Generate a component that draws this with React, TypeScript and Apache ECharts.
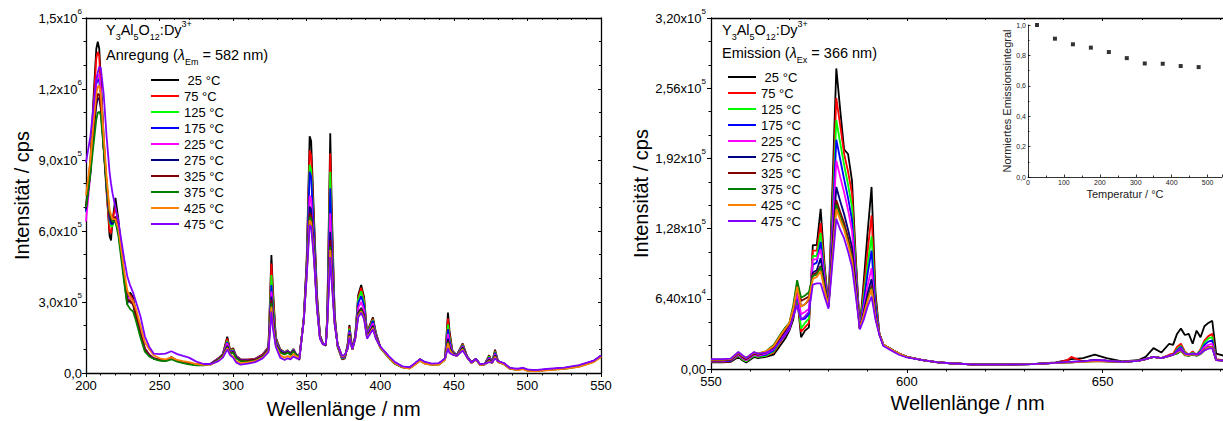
import React, { useEffect, useRef } from 'react';
import * as echarts from 'echarts';

const FONT = '"Liberation Sans", Arial, Helvetica, sans-serif';

const TEMPS = [' 25 °C', '75 °C', '125 °C', '175 °C', '225 °C', '275 °C', '325 °C', '375 °C', '425 °C', '475 °C'];
const COLORS = ['#000000', '#ff0000', '#00ff00', '#0000ff', '#ff00ff', '#000080', '#800000', '#008000', '#ff8000', '#8000ff'];

// ---------- Excitation spectra (left), wavelength in nm, intensity in 10^3 cps ----------
const LX = [
  200, 203, 205, 207, 208, 209, 210, 212, 214, 216, 217, 218, 220, 222, 224, 226, 228, 230, 232, 234, 237, 240, 243, 246,
  250, 254, 258, 262, 266, 270, 275, 280, 285, 290, 293, 296, 298, 300, 302, 305, 310, 315, 320, 324,
  326, 327, 329, 332, 335, 337, 339, 341, 343, 345, 348, 350,
  352, 353, 355, 357, 359, 361, 363, 364, 366, 367, 369, 371, 374, 376,
  378, 379, 381, 383, 385, 387, 389, 391, 393, 395, 397, 400, 403, 406, 410, 415, 420, 424, 427, 430, 435, 440, 444,
  446, 447, 449, 452, 456, 459, 462, 465, 468, 471, 474, 476, 478, 480, 484, 488, 493, 497, 500, 505, 515, 525, 535, 545, 550,
];

const exc25 = [
  700, 900, 1150, 1370, 1400, 1370, 1250, 1000, 780, 580, 560, 640, 740, 650, 520, 400, 290, 340, 320, 250, 170, 100, 75, 62,
  55, 52, 68, 52, 46, 40, 36, 36, 40, 62, 80, 153, 95, 105, 72, 58, 56, 60, 78, 110,
  498, 360, 150, 100, 88, 96, 82, 102, 70, 55, 230, 480,
  1000, 980, 650, 330, 160, 125, 115, 250, 1013, 700, 250, 110, 58, 62,
  130, 203, 100, 160, 330, 372, 320, 170, 205, 235, 170, 110, 88, 65, 40, 25, 22, 40, 58, 45, 38, 40, 60,
  255, 180, 95, 75, 125, 70, 45, 60, 35, 38, 75, 45, 98, 50, 40, 20, 15, 20, 12, 10, 15, 20, 30, 50, 72,
];
const exc75 = [
  690, 880, 1120, 1330, 1357, 1340, 1200, 950, 760, 600, 590, 650, 700, 630, 520, 410, 310, 330, 310, 250, 175, 105, 78, 63,
  55, 52, 66, 52, 46, 40, 36, 36, 40, 62, 80, 145, 93, 102, 72, 58, 56, 60, 78, 108,
  463, 335, 145, 98, 87, 95, 82, 100, 72, 58, 230, 470,
  940, 920, 620, 320, 158, 125, 116, 245, 928, 650, 240, 112, 60, 64,
  125, 195, 100, 158, 320, 360, 310, 168, 200, 230, 168, 110, 88, 65, 40, 25, 22, 40, 58, 45, 38, 40, 60,
  230, 165, 92, 75, 122, 70, 45, 60, 35, 38, 72, 45, 94, 50, 40, 20, 15, 20, 12, 10, 15, 20, 30, 50, 72,
];
const exc125 = [
  680, 860, 1060, 1230, 1255, 1240, 1180, 950, 770, 640, 620, 620, 660, 600, 500, 400, 310, 320, 300, 240, 165, 100, 75, 62,
  55, 52, 64, 51, 45, 39, 35, 35, 40, 60, 78, 135, 90, 98, 70, 56, 54, 58, 75, 105,
  414, 300, 140, 96, 86, 94, 82, 100, 74, 62, 228, 460,
  880, 860, 590, 310, 156, 125, 117, 240, 850, 600, 235, 114, 62, 66,
  120, 188, 100, 156, 310, 345, 298, 165, 195, 225, 165, 110, 88, 65, 41, 26, 22, 40, 57, 45, 38, 40, 60,
  205, 150, 90, 75, 118, 70, 45, 60, 35, 38, 70, 45, 90, 50, 40, 20, 15, 20, 12, 10, 15, 20, 30, 50, 72,
];
const exc175 = [
  680, 860, 1060, 1220, 1240, 1235, 1180, 960, 780, 650, 630, 630, 660, 610, 510, 410, 320, 320, 300, 245, 170, 102, 76, 62,
  56, 53, 64, 52, 46, 40, 36, 36, 40, 60, 78, 130, 88, 95, 70, 56, 54, 58, 75, 104,
  372, 270, 135, 95, 85, 93, 82, 98, 76, 65, 228, 455,
  850, 830, 575, 305, 155, 124, 118, 235, 780, 560, 230, 116, 64, 68,
  118, 180, 100, 154, 295, 325, 285, 162, 190, 220, 162, 110, 88, 66, 41, 26, 23, 41, 57, 45, 38, 40, 60,
  185, 138, 88, 75, 115, 70, 45, 59, 35, 38, 66, 45, 85, 49, 40, 20, 15, 19, 12, 10, 15, 20, 30, 50, 72,
];
const exc225 = [
  640, 840, 1050, 1230, 1260, 1260, 1200, 980, 800, 660, 640, 640, 660, 610, 510, 410, 320, 315, 300, 245, 170, 102, 76, 62,
  56, 53, 64, 52, 46, 40, 36, 36, 40, 60, 77, 125, 86, 92, 68, 55, 53, 57, 74, 102,
  344, 250, 130, 92, 84, 92, 80, 97, 78, 67, 226, 440,
  750, 735, 530, 290, 152, 124, 119, 230, 675, 500, 220, 118, 66, 70,
  115, 172, 100, 152, 275, 300, 265, 158, 185, 210, 158, 110, 88, 66, 42, 26, 23, 41, 56, 44, 38, 40, 60,
  165, 125, 86, 74, 112, 69, 45, 59, 35, 38, 62, 44, 80, 49, 40, 20, 15, 19, 12, 10, 16, 21, 31, 50, 72,
];
const exc275 = [
  690, 850, 1000, 1130, 1160, 1160, 1120, 950, 790, 660, 640, 630, 650, 600, 500, 400, 310, 300, 290, 240, 165, 100, 74, 61,
  55, 52, 62, 51, 45, 39, 35, 35, 39, 58, 75, 115, 84, 90, 66, 54, 52, 56, 72, 100,
  323, 235, 125, 90, 82, 90, 80, 95, 78, 68, 225, 430,
  703, 690, 510, 285, 150, 123, 120, 225, 597, 450, 215, 120, 68, 72,
  112, 165, 100, 150, 255, 275, 245, 155, 178, 200, 155, 110, 88, 66, 42, 27, 23, 41, 56, 44, 37, 40, 59,
  145, 112, 84, 74, 108, 68, 44, 58, 35, 38, 58, 44, 75, 48, 39, 20, 15, 19, 12, 10, 16, 21, 31, 50, 72,
];
const exc325 = [
  700, 860, 1020, 1150, 1180, 1175, 1130, 960, 800, 670, 650, 640, 660, 610, 510, 405, 310, 305, 290, 240, 165, 100, 74, 61,
  55, 52, 62, 51, 45, 39, 35, 35, 39, 58, 75, 110, 82, 88, 65, 53, 52, 56, 72, 100,
  309, 225, 122, 88, 80, 88, 78, 93, 76, 68, 225, 425,
  675, 665, 495, 280, 148, 122, 121, 220, 562, 425, 212, 120, 70, 74,
  110, 160, 100, 148, 250, 270, 240, 152, 172, 195, 152, 108, 86, 64, 40, 25, 21, 39, 54, 42, 36, 38, 58,
  135, 105, 82, 73, 105, 67, 43, 57, 34, 37, 55, 43, 72, 47, 38, 19, 14, 18, 11, 9, 14, 19, 28, 48, 70,
];
const exc375 = [
  700, 840, 960, 1070, 1100, 1104, 1090, 950, 800, 680, 660, 640, 640, 580, 480, 380, 290, 270, 260, 220, 150, 90, 70, 60,
  52, 50, 58, 48, 42, 36, 32, 32, 37, 56, 72, 108, 80, 86, 62, 50, 48, 52, 68, 96,
  295, 215, 120, 86, 78, 86, 76, 92, 76, 68, 224, 420,
  660, 650, 490, 278, 147, 122, 122, 218, 534, 410, 210, 120, 70, 74,
  108, 158, 98, 147, 245, 265, 236, 150, 170, 192, 150, 106, 84, 62, 38, 24, 20, 38, 52, 40, 34, 36, 56,
  130, 102, 81, 72, 103, 66, 42, 56, 33, 36, 52, 42, 70, 46, 37, 18, 13, 17, 10, 8, 13, 18, 27, 47, 69,
];
const exc425 = [
  750, 900, 1050, 1180, 1210, 1213, 1180, 1000, 830, 690, 670, 650, 650, 610, 520, 430, 350, 320, 300, 270, 200, 130, 100, 75,
  62, 58, 66, 55, 50, 46, 38, 34, 36, 52, 68, 105, 78, 70, 50, 42, 45, 50, 65, 92,
  280, 205, 115, 75, 65, 72, 65, 80, 70, 64, 222, 415,
  646, 636, 485, 276, 146, 121, 123, 215, 520, 400, 208, 120, 70, 75,
  106, 155, 98, 146, 240, 260, 232, 148, 168, 190, 148, 108, 86, 64, 40, 24, 19, 37, 52, 40, 34, 36, 56,
  125, 98, 80, 72, 100, 66, 42, 56, 33, 36, 50, 42, 68, 46, 37, 18, 12, 16, 9, 7, 12, 17, 26, 46, 68,
];
const exc475 = [
  890, 1000, 1120, 1240, 1270, 1294, 1290, 1180, 1000, 850, 800, 760, 700, 640, 560, 480, 410, 370, 340, 300, 240, 155, 110, 82,
  80, 82, 92, 80, 72, 65, 48, 38, 38, 50, 65, 100, 75, 65, 45, 35, 40, 46, 62, 88,
  260, 190, 110, 65, 55, 62, 58, 70, 62, 60, 220, 410,
  625, 618, 475, 272, 145, 120, 124, 210, 490, 385, 205, 120, 72, 78,
  104, 150, 100, 145, 235, 255, 228, 145, 165, 185, 145, 112, 90, 70, 46, 28, 24, 44, 58, 48, 40, 42, 62,
  105, 85, 78, 72, 95, 66, 44, 58, 36, 40, 46, 44, 62, 50, 42, 22, 18, 22, 15, 12, 18, 23, 33, 52, 74,
];
const EXC = [exc25, exc75, exc125, exc175, exc225, exc275, exc325, exc375, exc425, exc475];

// ---------- Emission spectra (right), wavelength in nm, intensity in 10^3 cps ----------
const RX = [
  550, 553, 555, 557, 558, 559, 561, 562, 564, 566,
  568, 569, 570, 571, 572, 573, 574, 575, 576, 577,
  578, 579, 580, 581, 582, 583, 584, 585, 586, 587,
  588, 589, 590, 591, 592, 593, 594, 596, 598, 600,
  604, 608, 612, 618, 625, 632, 638, 641, 642, 645,
  648, 651, 655, 659, 661, 663, 665, 667, 668, 669,
  670, 671, 672, 673, 674, 675, 676, 677, 678, 679,
  681,
];

const em25 = [
  6, 6, 6.5, 11, 8, 6, 11, 10, 11, 13,
  23, 28, 35, 45, 66, 29, 35, 38, 113, 113,
  146, 95, 57, 165, 274, 236, 200, 196, 172, 100,
  37, 80, 125, 166, 70, 32, 22, 18, 14, 11,
  8, 6, 5, 4, 4, 4.5, 6, 8, 9, 10,
  13, 10, 7, 8, 11, 19, 15, 23, 22, 32,
  37, 31, 32, 23, 35, 29, 39, 42, 44, 14,
  12,
];
const em75 = [
  6.5, 6.5, 7, 12, 9, 7, 12, 11, 12, 15,
  26, 31, 37, 47, 66, 34, 38, 42, 108, 108,
  133, 92, 57, 150, 247, 222, 196, 180, 160, 95,
  37, 72, 108, 140, 65, 32, 22, 18, 14, 11,
  8, 6, 5, 4, 4, 4.5, 5.5, 8, 11, 7,
  8, 7.5, 6.5, 7.5, 9, 11, 10, 13, 14, 20,
  23, 16, 13, 16, 13, 18, 26, 30, 32, 9,
  8,
];
const em125 = [
  7, 7, 7.5, 12, 9, 7, 12, 11, 12, 16,
  27, 32, 38, 48, 68, 37, 42, 46, 103, 103,
  124, 88, 57, 140, 227, 206, 186, 168, 148, 90,
  37, 66, 95, 121, 60, 32, 22, 18, 14, 11,
  8, 6, 5, 4, 4, 4.5, 5.5, 6.5, 6.5, 7,
  8, 7.5, 6.5, 7.5, 9, 11, 10, 12, 13, 18,
  21, 15, 13, 15, 13, 17, 24, 28, 29, 8.5,
  8,
];
const em175 = [
  7, 7, 7.5, 13, 10, 8, 13, 12, 13, 17,
  28, 33, 39, 50, 68, 45, 46, 50, 95, 97,
  116, 85, 57, 132, 209, 191, 173, 156, 136, 86,
  37, 61, 87, 108, 57, 32, 22, 18, 14, 11,
  8, 6, 5, 4, 4, 4.5, 5.5, 6.5, 6.5, 7,
  8, 7.5, 6.5, 7.5, 9, 11, 10, 12, 13, 17,
  20, 14, 13, 14, 13, 16, 22, 25, 26, 8.5,
  8,
];
const em225 = [
  7.5, 7.5, 8, 13, 10, 8, 13, 12, 14, 18,
  29, 34, 40, 52, 70, 50, 52, 55, 100, 100,
  109, 82, 57, 124, 190, 175, 161, 145, 126, 82,
  37, 56, 76, 92, 52, 32, 22, 18, 14, 11,
  8, 6, 5, 4, 4, 4.5, 5.5, 6.5, 6.5, 7,
  8, 7.5, 6.5, 7.5, 9, 11, 10, 12, 13, 16,
  19, 14, 13, 14, 13, 15, 20, 22, 23, 8.5,
  8,
];
const em275 = [
  8, 8, 8.5, 14, 11, 9, 14, 13, 15, 19,
  30, 35, 41, 54, 76, 57, 59, 63, 88, 90,
  101, 78, 57, 112, 166, 153, 141, 127, 111, 76,
  37, 52, 69, 82, 50, 32, 22, 18, 14, 11,
  8, 6, 5, 4, 4, 4.5, 5.5, 6, 6, 7,
  8, 7, 6.5, 7.5, 9, 11, 10, 12, 13, 15,
  18, 13, 12.5, 13.5, 12.5, 14, 18, 20, 20, 8,
  7.5,
];
const em325 = [
  8, 8, 8.5, 14, 11, 9, 14, 13, 15, 20,
  31, 36, 41, 55, 78, 62, 64, 66, 86, 88,
  94, 75, 57, 106, 154, 143, 133, 120, 104, 72,
  37, 50, 64, 76, 48, 32, 22, 18, 14, 11,
  8, 6, 5, 4, 4, 4.5, 5.5, 6, 6, 7,
  7.5, 7, 6.5, 7.5, 9, 11, 10, 12, 13, 15,
  17, 13, 12.5, 13.5, 12.5, 14, 17.5, 19.5, 20, 8,
  7.5,
];
const em375 = [
  8.5, 8.5, 9, 15, 12, 10, 15, 14, 16, 22,
  33, 38, 42, 58, 81, 65, 67, 70, 85, 86,
  93, 74, 57, 103, 150, 139, 129, 116, 101, 70,
  37, 49, 63, 74, 47, 32, 22, 18, 14, 11,
  8, 6, 5, 4, 4, 4.5, 5.5, 6, 6, 6.5,
  7, 7, 6.5, 7.5, 9, 11, 10, 12, 13, 14,
  16.5, 12.5, 12, 13, 12, 13.5, 17, 19, 20, 8,
  7.5,
];
const em425 = [
  8.5, 8.5, 9, 15, 12, 10, 15, 14, 16, 21,
  32, 37, 42, 55, 75, 57, 59, 64, 82, 84,
  89, 72, 57, 101, 146, 136, 127, 114, 99, 69,
  37, 49, 62, 73, 47, 32, 22, 18, 14, 11,
  8, 6, 5, 4, 4, 4.5, 5.5, 6, 6, 6.5,
  7, 7, 6.5, 7.5, 9, 11, 10, 12, 13, 15,
  17, 13, 12.5, 13.5, 12.5, 14, 17.5, 19.5, 20, 8,
  7.5,
];
const em475 = [
  9, 9, 9.5, 15.5, 12.5, 10, 15.5, 14, 15, 18,
  27, 31, 36, 48, 58, 45, 48, 52, 77, 78,
  78, 66, 55, 96, 137, 127, 119, 107, 93, 66,
  36, 45, 57, 66, 45, 31, 21, 17, 13, 10.5,
  8, 6, 5, 4, 4, 4.5, 5.5, 6.5, 6.5, 7,
  8, 7.5, 6.5, 7.5, 9, 11, 10, 12, 13, 16,
  17.5, 14, 13, 14, 13, 14, 17, 18.5, 19, 8,
  7.5,
];
const EM = [em25, em75, em125, em175, em225, em275, em325, em375, em425, em475];

// ---------- Inset: normalised emission integral ----------
const INSET_T = [25, 75, 125, 175, 225, 275, 325, 375, 425, 475];
const INSET_V = [1.0, 0.91, 0.873, 0.851, 0.822, 0.782, 0.747, 0.745, 0.73, 0.723];

// y tick values are in 10^3 cps
function sciLabel(vk: number, dec: number): string {
  const v = Math.round(vk * 1000);
  if (v === 0) return '{m|0,' + '0'.repeat(dec) + '}';
  const e = Math.floor(Math.log10(v) + 1e-9);
  const m = (v / Math.pow(10, e)).toFixed(dec).replace('.', ',');
  return '{m|' + m + 'x10}{p|' + e + '}';
}

const BLACK = '#000';
const AX_LINE = { show: true, onZero: false, lineStyle: { color: BLACK, width: 1.3 } };
const TICK_RICH = {
  m: { fontSize: 13, lineHeight: 22, color: BLACK, fontFamily: FONT },
  p: { fontSize: 8, lineHeight: 10, color: BLACK, fontFamily: FONT, verticalAlign: 'top' },
};
const NAME_STYLE = { fontSize: 20, color: BLACK, fontFamily: FONT };

function mirrorX(grid: number, min: number, max: number, interval: number, minor: number) {
  return {
    type: 'value', gridIndex: grid, position: 'top', min, max, interval,
    axisLine: AX_LINE,
    axisTick: { show: true, inside: true, length: 3, lineStyle: { color: BLACK, width: 1 } },
    minorTick: { show: true, splitNumber: minor, length: 2, lineStyle: { color: BLACK, width: 1 } },
    axisLabel: { show: false }, splitLine: { show: false }, minorSplitLine: { show: false },
  };
}

export default function App() {
  const ref = useRef<HTMLDivElement>(null);

  useEffect(() => {
    document.body.style.margin = '0';
    if (!ref.current) return;
    const chart = echarts.init(ref.current, undefined, { renderer: 'svg' });

    const leftSeries = EXC.map((arr, i) => ({
      type: 'line', name: TEMPS[i], xAxisIndex: 0, yAxisIndex: 0,
      data: LX.map((x, k) => [x, arr[k]]),
      symbol: 'none', silent: true, clip: true,
      lineStyle: { color: COLORS[i], width: 1.8 }, itemStyle: { color: COLORS[i] },
    }));
    const rightSeries = EM.map((arr, i) => ({
      type: 'line', name: TEMPS[i], xAxisIndex: 2, yAxisIndex: 2,
      data: RX.map((x, k) => [x, arr[k]]),
      symbol: 'none', silent: true, clip: true,
      lineStyle: { color: COLORS[i], width: 1.8 }, itemStyle: { color: COLORS[i] },
    }));
    const insetSeries = {
      type: 'scatter', xAxisIndex: 4, yAxisIndex: 3,
      data: INSET_T.map((t, k) => [t, INSET_V[k]]),
      symbol: 'rect', symbolSize: 4, silent: true,
      itemStyle: { color: BLACK },
    };

    const formulaRich = {
      m: { fontSize: 14.5, lineHeight: 22, fill: BLACK, fontFamily: FONT },
      b: { fontSize: 9, lineHeight: 9, fill: BLACK, fontFamily: FONT, verticalAlign: 'bottom' },
      t: { fontSize: 9, lineHeight: 9, fill: BLACK, fontFamily: FONT, verticalAlign: 'top' },
      i: { fontSize: 14.5, lineHeight: 22, fill: BLACK, fontFamily: FONT, fontStyle: 'italic' },
    };
    const FORMULA = '{m|Y}{b|3}{m|Al}{b|5}{m|O}{b|12}{m|:Dy}{t|3+}';

    const legendCommon = {
      show: true, orient: 'vertical', itemWidth: 28, itemHeight: 16, itemGap: 0,
      selectedMode: false, data: TEMPS,
      itemStyle: { opacity: 0 },
      lineStyle: { width: 2 },
      textStyle: { fontSize: 13, color: BLACK, fontFamily: FONT, lineHeight: 16 },
    };

    chart.setOption({
      animation: false,
      textStyle: { fontFamily: FONT },
      grid: [
        { left: 86, top: 18, width: 515, height: 355, outerBoundsMode: 'none' },
        { left: 711, top: 18, width: 513, height: 351, outerBoundsMode: 'none' },
        { left: 1028, top: 25, width: 194, height: 152, outerBoundsMode: 'none' },
      ],
      legend: [
        { ...legendCommon, left: 145, top: 67 },
        { ...legendCommon, left: 722, top: 64 },
      ],
      xAxis: [
        {
          type: 'value', gridIndex: 0, position: 'bottom', min: 200, max: 550, interval: 50,
          axisLine: AX_LINE,
          axisTick: { show: true, inside: false, length: 4, lineStyle: { color: BLACK, width: 1 } },
          minorTick: { show: true, splitNumber: 5, length: 2.5, lineStyle: { color: BLACK, width: 1 } },
          splitLine: { show: false }, minorSplitLine: { show: false },
          axisLabel: { fontSize: 13, color: BLACK, margin: 6, fontFamily: FONT },
          name: 'Wellenlänge / nm', nameLocation: 'middle', nameGap: 26, nameTextStyle: NAME_STYLE,
        },
        mirrorX(0, 200, 550, 50, 5),
        {
          type: 'value', gridIndex: 1, position: 'bottom', min: 550, max: 681, interval: 50,
          axisLine: AX_LINE,
          axisTick: { show: true, inside: false, length: 4, lineStyle: { color: BLACK, width: 1 } },
          minorTick: { show: true, splitNumber: 5, length: 2.5, lineStyle: { color: BLACK, width: 1 } },
          splitLine: { show: false }, minorSplitLine: { show: false },
          axisLabel: {
            fontSize: 13, color: BLACK, margin: 6, fontFamily: FONT, showMaxLabel: false,
            formatter: (v: number) => (v % 50 === 0 ? String(v) : ''),
          },
          name: 'Wellenlänge / nm', nameLocation: 'middle', nameGap: 16, nameTextStyle: NAME_STYLE,
        },
        mirrorX(1, 550, 681, 50, 5),
        {
          type: 'value', gridIndex: 2, position: 'bottom', min: 0, max: 540, interval: 100,
          axisLine: { show: true, onZero: false, lineStyle: { color: BLACK, width: 0.8 } },
          axisTick: { show: true, inside: true, length: 2.5, lineStyle: { color: BLACK, width: 0.8 } },
          minorTick: { show: true, splitNumber: 2, length: 1.5, lineStyle: { color: BLACK, width: 0.8 } },
          splitLine: { show: false }, minorSplitLine: { show: false },
          axisLabel: {
            fontSize: 7, color: '#222', margin: 2, fontFamily: FONT, showMaxLabel: false,
            formatter: (v: number) => (v % 100 === 0 ? String(v) : ''),
          },
          name: 'Temperatur / °C', nameLocation: 'middle', nameGap: 11,
          nameTextStyle: { fontSize: 11, color: '#222', fontFamily: FONT },
        },
      ],
      yAxis: [
        {
          type: 'value', gridIndex: 0, position: 'left', min: 0, max: 1500, interval: 300,
          axisLine: AX_LINE,
          axisTick: { show: true, inside: false, length: 4, lineStyle: { color: BLACK, width: 1 } },
          minorTick: { show: true, splitNumber: 3, length: 2.5, lineStyle: { color: BLACK, width: 1 } },
          splitLine: { show: false }, minorSplitLine: { show: false },
          axisLabel: { margin: 4, formatter: (v: number) => sciLabel(v, 1), rich: TICK_RICH },
          name: 'Intensität / cps', nameLocation: 'middle', nameGap: 54, nameTextStyle: NAME_STYLE,
        },
        {
          type: 'value', gridIndex: 0, position: 'right', min: 0, max: 1500, interval: 300,
          axisLine: AX_LINE,
          axisTick: { show: true, inside: true, length: 3, lineStyle: { color: BLACK, width: 1 } },
          minorTick: { show: true, splitNumber: 3, length: 2, lineStyle: { color: BLACK, width: 1 } },
          splitLine: { show: false }, minorSplitLine: { show: false },
          axisLabel: { show: false },
        },
        {
          type: 'value', gridIndex: 1, position: 'left', min: 0, max: 320, interval: 64,
          axisLine: AX_LINE,
          axisTick: { show: true, inside: false, length: 4, lineStyle: { color: BLACK, width: 1 } },
          minorTick: { show: true, splitNumber: 3, length: 2.5, lineStyle: { color: BLACK, width: 1 } },
          splitLine: { show: false }, minorSplitLine: { show: false },
          axisLabel: { margin: 5, formatter: (v: number) => sciLabel(v, 2), rich: TICK_RICH },
          name: 'Intensität / cps', nameLocation: 'middle', nameGap: 59, nameTextStyle: NAME_STYLE,
        },
        {
          type: 'value', gridIndex: 2, position: 'left', min: 0, max: 1, interval: 0.2,
          axisLine: { show: true, onZero: false, lineStyle: { color: BLACK, width: 0.8 } },
          axisTick: { show: true, inside: true, length: 2.5, lineStyle: { color: BLACK, width: 0.8 } },
          minorTick: { show: true, splitNumber: 2, length: 1.5, lineStyle: { color: BLACK, width: 0.8 } },
          splitLine: { show: false }, minorSplitLine: { show: false },
          axisLabel: {
            fontSize: 7, color: '#222', margin: 2, fontFamily: FONT,
            formatter: (v: number) => v.toFixed(1).replace('.', ','),
          },
          name: 'Normiertes Emissionsintegral', nameLocation: 'middle', nameGap: 16,
          nameTextStyle: { fontSize: 11, color: '#222', fontFamily: FONT },
        },
      ],
      graphic: [
        { type: 'text', x: 106, y: 30, silent: true, style: { text: FORMULA, rich: formulaRich, verticalAlign: 'middle', align: 'left' } },
        { type: 'text', x: 106, y: 55, silent: true, style: { text: '{m|Anregung (}{i|λ}{b|Em}{m| = 582 nm)}', rich: formulaRich, verticalAlign: 'middle', align: 'left' } },
        { type: 'text', x: 722, y: 30, silent: true, style: { text: FORMULA, rich: formulaRich, verticalAlign: 'middle', align: 'left' } },
        { type: 'text', x: 722, y: 53, silent: true, style: { text: '{m|Emission (}{i|λ}{b|Ex}{m| = 366 nm)}', rich: formulaRich, verticalAlign: 'middle', align: 'left' } },
      ],
      series: [...leftSeries, ...rightSeries, insetSeries],
    });

    return () => chart.dispose();
  }, []);

  return <div ref={ref} style={{ width: 1223, height: 421 }} />;
}
